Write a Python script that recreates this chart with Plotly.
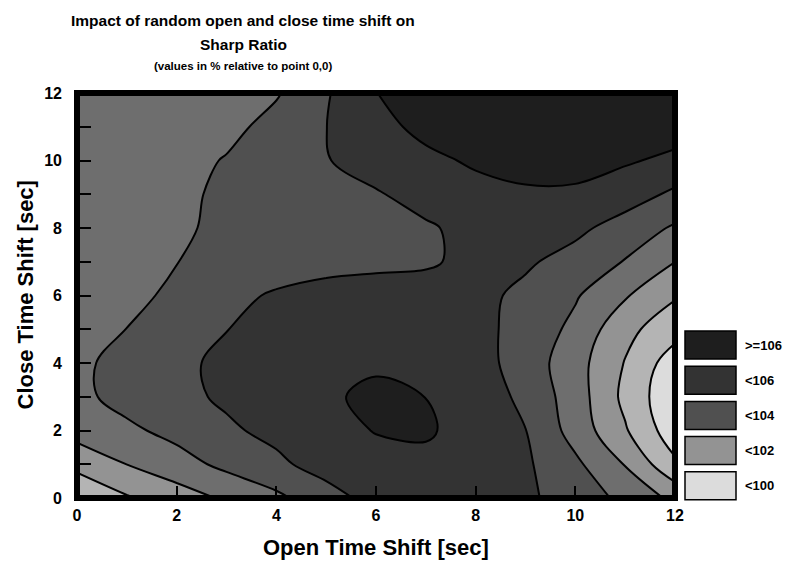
import plotly.graph_objects as go

# ---- data -------------------------------------------------------------
open_shift = [0, 1, 2, 3, 4, 5, 6, 7, 8, 9, 10, 11, 12]    # x (sec)
close_shift = [0, 1, 2, 3, 4, 5, 6, 7, 8, 9, 10, 11, 12]   # y (sec)

# Sharp ratio in % relative to point (0,0); rows = close shift 0..12, cols = open shift 0..12
row_c0 = [101.1, 101.9, 102.52, 103.15, 103.78, 104.6, 105.35, 105.45, 105.4, 105.2, 104.5, 103.78, 102.75]
row_c1 = [102.3, 103.01, 103.6, 104.25, 104.8, 105.4, 105.6, 105.7, 105.55, 105.15, 104.2, 102.95, 101.18]
row_c2 = [103.4, 103.8, 104.3, 104.85, 105.25, 105.6, 106.05, 106.15, 105.5, 105.02, 103.6, 102.1, 100.4]
row_c3 = [103.75, 104.35, 104.75, 105.15, 105.5, 105.8, 106.3, 105.99, 105.6, 104.75, 103.5, 101.75, 100.2]
row_c4 = [103.75, 104.4, 104.8, 105.2, 105.5, 105.7, 105.8, 105.75, 105.4, 104.55, 103.4, 101.95, 100.46]
row_c5 = [103.5, 104.01, 104.5, 104.98, 105.4, 105.6, 105.7, 105.65, 105.3, 104.65, 103.75, 102.28, 101.39]
row_c6 = [103.5, 103.8, 104.15, 104.65, 105.15, 105.49, 105.55, 105.5, 105.3, 104.75, 104.1, 103.1, 102.1]
row_c7 = [103.6, 103.75, 103.99, 104.15, 104.35, 104.55, 104.72, 104.85, 105.3, 105.15, 104.6, 103.95, 103.01]
row_c8 = [103.55, 103.7, 103.9, 104.14, 104.33, 104.53, 104.73, 104.9, 105.25, 105.45, 105.25, 104.55, 103.88]
row_c9 = [103.45, 103.6, 103.85, 104.13, 104.4, 104.66, 104.93, 105.3, 105.65, 105.8, 105.8, 105.5, 104.8]
row_c10 = [103.35, 103.45, 103.62, 104.07, 104.52, 104.96, 105.35, 105.75, 106.15, 106.5, 106.45, 106.1, 105.8]
row_c11 = [103.3, 103.4, 103.5, 103.7, 104.35, 104.99, 105.65, 106.3, 106.6, 106.9, 106.9, 106.7, 106.4]
row_c12 = [103.3, 103.4, 103.5, 103.7, 103.9, 104.9, 105.97, 106.9, 107.3, 107.5, 107.5, 107.3, 107.0]

sharp_ratio = [row_c0, row_c1, row_c2, row_c3, row_c4, row_c5, row_c6,
               row_c7, row_c8, row_c9, row_c10, row_c11, row_c12]

x_tick_vals = [0, 2, 4, 6, 8, 10, 12]
y_tick_vals = [0, 1, 2, 3, 4, 5, 6, 7, 8, 9, 10, 11, 12]
y_tick_text = ["0", "", "2", "", "4", "", "6", "", "8", "", "10", "", "12"]

band_colors = ["#dcdcdc", "#b4b4b4", "#939393", "#6e6e6e", "#505050", "#333333", "#1e1e1e"]
legend_labels = [">=106", "<106", "<104", "<102", "<100"]
legend_colors = ["#1e1e1e", "#333333", "#505050", "#939393", "#dcdcdc"]

# ---- layout geometry (pixels) ----------------------------------------
W, H = 791, 561
L, R, T, B = 77, 116, 93, 63
PW, PH = W - L - R, H - T - B


def px_x(px):
    return (px - L) / PW


def px_y(py):
    return (H - B - py) / PH


n = len(band_colors) - 1
colorscale = [[i / n, c] for i, c in enumerate(band_colors)]

fig = go.Figure()
fig.add_trace(go.Contour(
    x=open_shift, y=close_shift, z=sharp_ratio,
    autocontour=False,
    contours=dict(start=101, end=106, size=1, coloring="fill"),
    colorscale=colorscale,
    showscale=False,
    line=dict(color="black", width=2, smoothing=1.0),
    hoverinfo="x+y+z",
))

tick_font = dict(family="Liberation Sans, Arial, sans-serif", size=16, color="black", weight="bold")

fig.update_xaxes(range=[0, 12], tickvals=x_tick_vals, ticks="inside", ticklen=12, tickwidth=2,
                 tickcolor="black", tickfont=tick_font, showgrid=False, zeroline=False,
                 showline=False, ticklabelstandoff=6)
fig.update_yaxes(range=[0, 12], tickvals=y_tick_vals, ticktext=y_tick_text, ticks="inside",
                 ticklen=14, tickwidth=2, tickcolor="black", tickfont=tick_font,
                 showgrid=False, zeroline=False, showline=False, ticklabelstandoff=14)

shapes = [dict(type="rect", xref="paper", yref="paper", x0=0, x1=1, y0=0, y1=1,
               line=dict(color="black", width=6), layer="above")]
annotations = []

# legend boxes
box_left, box_right, box_top0, box_h, box_step = 685, 736, 331, 28, 35.2
for i, (lab, col) in enumerate(zip(legend_labels, legend_colors)):
    top = box_top0 + i * box_step
    shapes.append(dict(type="rect", xref="paper", yref="paper",
                       x0=px_x(box_left), x1=px_x(box_right),
                       y0=px_y(top + box_h), y1=px_y(top),
                       fillcolor=col, line=dict(color="black", width=1.5)))
    annotations.append(dict(text="<b>%s</b>" % lab.replace("<", "&lt;").replace(">", "&gt;"),
                            xref="paper", yref="paper", x=px_x(743), y=px_y(top + box_h / 2),
                            xanchor="left", yanchor="middle", showarrow=False,
                            font=dict(family="Liberation Sans, Arial, sans-serif", size=13, color="black")))

title_font = "Liberation Sans, Arial, sans-serif"
title_lines = [("Impact of random open and close time shift on", 15.5, 21),
               ("Sharp Ratio", 15.5, 44),
               ("(values in % relative to point 0,0)", 11.5, 66)]
for txt, size, ypx in title_lines:
    annotations.append(dict(text="<b>%s</b>" % txt, xref="paper", yref="paper",
                            x=px_x(243), y=px_y(ypx), xanchor="center", yanchor="middle",
                            showarrow=False, font=dict(family=title_font, size=size, color="black")))

axis_font = dict(family="Liberation Sans, Arial, sans-serif", size=22, color="black")
annotations.append(dict(text="<b>Open Time Shift [sec]</b>", xref="paper", yref="paper",
                        x=0.5, y=px_y(547), xanchor="center", yanchor="middle",
                        showarrow=False, font=axis_font))
annotations.append(dict(text="<b>Close Time Shift [sec]</b>", xref="paper", yref="paper",
                        x=px_x(25), y=0.5, xanchor="center", yanchor="middle", textangle=-90,
                        showarrow=False, font=axis_font))

fig.update_layout(width=W, height=H, margin=dict(l=L, r=R, t=T, b=B, autoexpand=False),
                  paper_bgcolor="white", plot_bgcolor="white",
                  shapes=shapes, annotations=annotations, showlegend=False)

fig.write_html("out.html", config={"displayModeBar": False},
               post_script="document.body.style.margin='0';document.body.style.overflow='hidden';")
